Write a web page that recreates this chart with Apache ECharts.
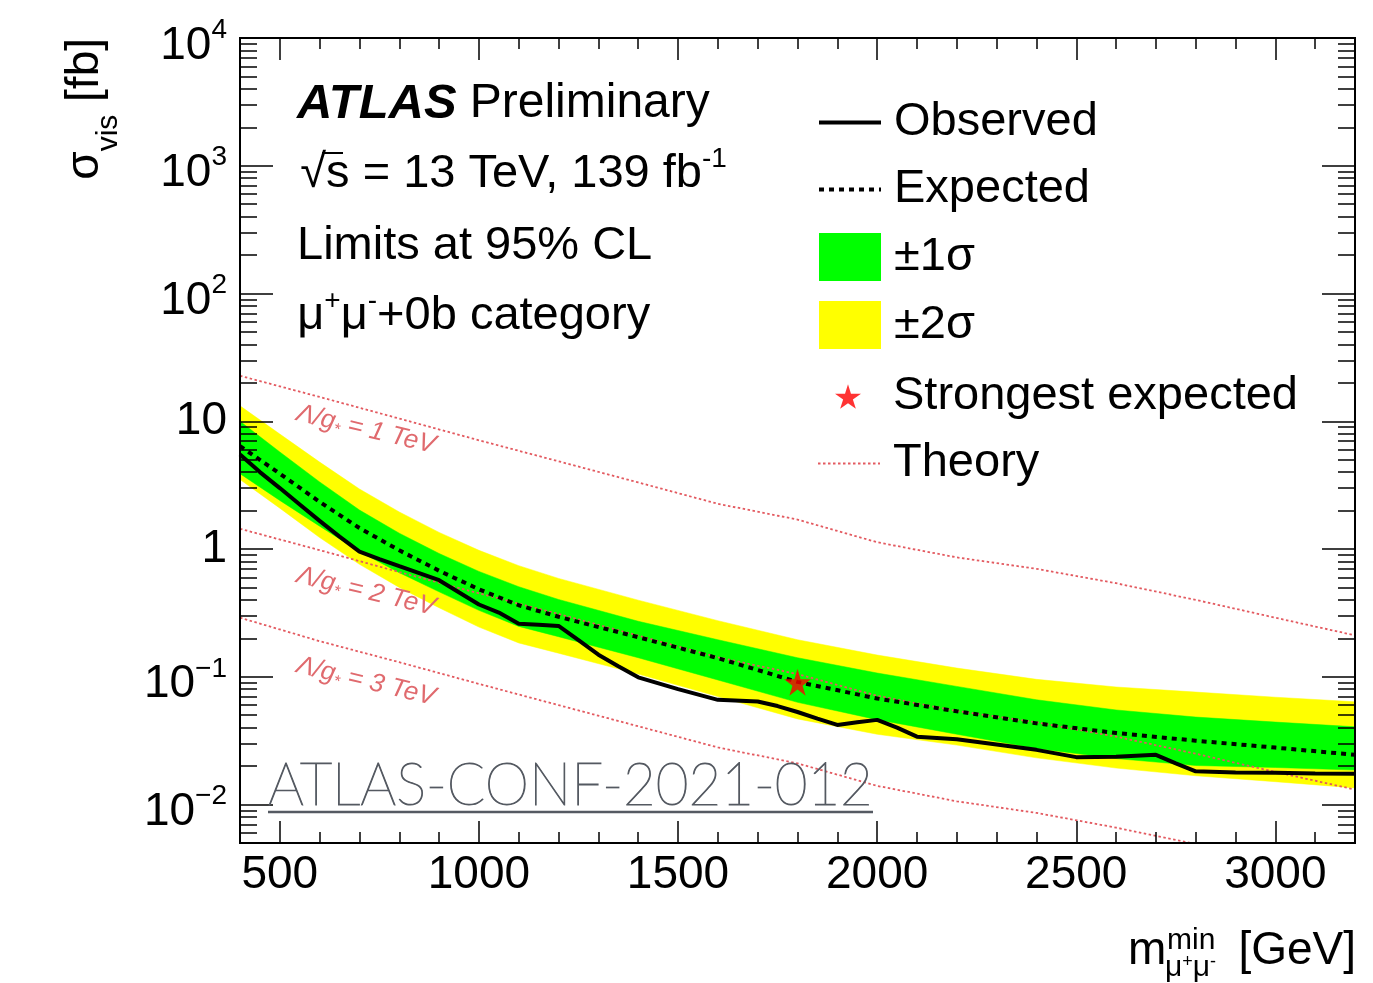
<!DOCTYPE html>
<html><head><meta charset="utf-8">
<script src="https://cdn.jsdelivr.net/npm/echarts@6/dist/echarts.min.js"></script>
<style>html,body{margin:0;padding:0;background:#fff}#c{width:1373px;height:983px}</style>
</head><body><div id="c"></div>
<script>
// ---- data ----
const bandMass = [400,500,600,700,800,900,1000,1100,1200,1400,1600,1800,2000,2200,2400,2600,2800,3000,3200];
const expected = [6.40,3.89,2.34,1.46,0.977,0.676,0.484,0.363,0.295,0.204,0.140,0.0912,0.0676,0.0537,0.0432,0.0363,0.0316,0.0279,0.0245];
const plus1    = [10.0,5.75,3.35,2.02,1.33,0.923,0.668,0.507,0.403,0.272,0.195,0.141,0.107,0.0841,0.0661,0.055,0.0484,0.0442,0.0406];
const minus1   = [3.89,2.40,1.51,0.955,0.653,0.462,0.331,0.248,0.206,0.141,0.0944,0.0631,0.0462,0.0355,0.0275,0.0229,0.0202,0.0195,0.0186];
const plus2    = [13.2,7.94,4.79,2.95,1.95,1.35,0.977,0.741,0.589,0.398,0.275,0.195,0.148,0.117,0.0955,0.0832,0.0759,0.0692,0.0637];
const minus2   = [3.50,2.09,1.23,0.759,0.501,0.347,0.245,0.184,0.153,0.105,0.070,0.0468,0.0355,0.0292,0.0232,0.0193,0.0168,0.0151,0.0135];

const obsMass  = [400,450,500,550,600,650,700,750,800,900,1000,1050,1100,1150,1200,1250,1300,1350,1400,1500,1600,1700,1750,1800,1850,1900,1950,2000,2050,2100,2200,2300,2400,2500,2600,2700,2750,2800,2900,3000,3100,3200];
const observed = [5.5,4.0,3.0,2.23,1.66,1.25,0.955,0.835,0.734,0.57,0.368,0.318,0.26,0.255,0.25,0.194,0.149,0.121,0.099,0.080,0.066,0.064,0.059,0.053,0.047,0.042,0.044,0.046,0.040,0.034,0.0325,0.0295,0.0268,0.0235,0.0237,0.0245,0.021,0.0182,0.0178,0.0177,0.0175,0.0174];

const theoryMass = [400,600,800,1000,1200,1400,1600,1800,2000,2200,2400,2600,2800,3000,3200];
const theory1TeV = [22.7,15.5,10.5,7.1,4.86,3.32,2.26,1.70,1.13,0.86,0.70,0.54,0.40,0.29,0.211];
const theory2TeV = [1.44,0.98,0.66,0.45,0.31,0.21,0.142,0.105,0.071,0.054,0.044,0.034,0.025,0.018,0.0131];
const theory3TeV = [0.29,0.19,0.13,0.088,0.060,0.041,0.028,0.021,0.014,0.0106,0.0086,0.0066,0.0049,0.0036,0.0026];

const strongestMass = [1800];
const strongestValue = [0.0905];

const xMajorTicks = [500,1000,1500,2000,2500,3000];
const xMinorTicks = [400,600,700,800,900,1100,1200,1300,1400,1600,1700,1800,1900,2100,2200,2300,2400,2600,2700,2800,2900,3100,3200];
const yMajorTicks = [0.01,0.1,1,10,100,1000,10000];
const yMinorTicks = [];
for (let k = -3; k <= 3; k++) for (let d = 2; d <= 9; d++) {
  const v = parseFloat((d * Math.pow(10, k)).toPrecision(3));
  if (v >= 0.005 && v <= 10000) yMinorTicks.push(v);
}

// ---- chart ----
const FONT = "'Liberation Sans', Arial, Helvetica, sans-serif";
const chart = echarts.init(document.getElementById('c'), null, {renderer: 'canvas', width: 1373, height: 983});

function xAx(position, len, ticks, withLabels) {
  return {
    type: 'value', min: 400, max: 3200, position: position, z: 10,
    axisLine: {show: true, onZero: false, lineStyle: {color: '#000', width: 2}},
    axisTick: {show: true, inside: true, length: len, customValues: ticks, lineStyle: {color: '#000', width: 1.5}},
    axisLabel: withLabels ? {show: true, customValues: ticks, margin: 9, fontSize: 46, fontFamily: FONT, color: '#000',
      formatter: function (v) { return String(Math.round(v)); }} : {show: false},
    splitLine: {show: false}
  };
}
function yLabel(v) {
  const e = Math.round(Math.log10(v));
  if (e === 0) return '{p|1}';
  if (e === 1) return '{p|10}';
  return '{z| }{b|10}{e|' + (e < 0 ? '\u2212' + (-e) : e) + '}';
}
function yAx(position, len, ticks, withLabels) {
  return {
    type: 'log', logBase: 10, min: 0.005, max: 10000, position: position, z: 10,
    axisLine: {show: true, onZero: false, lineStyle: {color: '#000', width: 2}},
    axisTick: {show: true, inside: true, length: len, customValues: ticks, lineStyle: {color: '#000', width: 1.5}},
    axisLabel: withLabels ? {
      show: true, customValues: ticks, margin: 13, formatter: yLabel, color: '#000',
      rich: {
        p: {fontSize: 46, fontFamily: FONT, color: '#000', lineHeight: 46},
        z: {fontSize: 1, lineHeight: 62, fontFamily: FONT},
        b: {fontSize: 46, fontFamily: FONT, color: '#000', lineHeight: 46, verticalAlign: 'bottom'},
        e: {fontSize: 28, fontFamily: FONT, color: '#000', padding: [9, 0, 0, 0], verticalAlign: 'top'}
      }
    } : {show: false},
    splitLine: {show: false}, minorTick: {show: false}
  };
}

function bandSeries(name, color, lo, hi, z) {
  return {
    type: 'custom', name: name, z: z, xAxisIndex: 0, yAxisIndex: 0,
    itemStyle: {color: color}, animation: false, silent: true,
    data: bandMass.map((m, i) => [m, lo[i], hi[i]]),
    encode: {x: 0, y: [1, 2]},
    renderItem: function (params, api) {
      if (params.dataIndex !== 0) return {type: 'group', children: []};
      const pts = [];
      for (let i = 0; i < bandMass.length; i++) pts.push(api.coord([bandMass[i], hi[i]]));
      for (let i = bandMass.length - 1; i >= 0; i--) pts.push(api.coord([bandMass[i], lo[i]]));
      return {type: 'polygon', shape: {points: pts}, style: {fill: color, stroke: color, lineWidth: 0.5}};
    }
  };
}
function theorySeries(vals) {
  return {
    type: 'line', name: 'Theory', z: 4, symbol: 'none', clip: true, animation: false,
    data: theoryMass.map((m, i) => [m, vals[i]]),
    lineStyle: {color: '#e35a60', width: 1.8, type: [2.5, 2.5]},
    itemStyle: {color: '#e35a60'}
  };
}

const STAR = 'path://M50,0 L61,35 L98,35 L68,57 L79,91 L50,70 L21,91 L32,57 L2,35 L39,35 Z';
const legendText = {fontSize: 47, fontFamily: FONT, color: '#000', padding: [0, 0, 0, 8]};
const lblStyle = {fill: '#e06a6e', fontSize: 26, fontFamily: FONT, fontStyle: 'italic'};
const hideSym = {opacity: 0};

function theoryLabel(x, y, tev) {
  return {
    type: 'text', x: x, y: y, rotation: -13.5 * Math.PI / 180, z: 50,
    style: {
      text: '{a|\u039B/g}{s|*}{a| = ' + tev + ' TeV}', align: 'left', verticalAlign: 'middle',
      rich: {a: Object.assign({lineHeight: 30}, lblStyle), s: Object.assign({}, lblStyle, {fontSize: 16, lineHeight: 30, verticalAlign: 'bottom'})}
    }
  };
}
const sup = {
  z: {fontSize: 1, lineHeight: 62, fontFamily: FONT, fill: '#000'},
  p: {fontSize: 47, fontFamily: FONT, fill: '#000', lineHeight: 47, verticalAlign: 'bottom'},
  e: {fontSize: 28, fontFamily: FONT, fill: '#000', padding: [9, 0, 0, 0], verticalAlign: 'top'}
};

chart.setOption({
  backgroundColor: '#fff',
  animation: false,
  grid: {left: 240, right: 18, top: 38, bottom: 140, containLabel: false},
  xAxis: [
    xAx('bottom', 22, xMajorTicks, true),
    xAx('bottom', 11, xMinorTicks, false),
    xAx('top', 22, xMajorTicks, false),
    xAx('top', 11, xMinorTicks, false)
  ],
  yAxis: [
    yAx('left', 33, yMajorTicks, true),
    yAx('left', 17, yMinorTicks, false),
    yAx('right', 33, yMajorTicks, false),
    yAx('right', 17, yMinorTicks, false)
  ],
  legend: [
    {orient: 'vertical', left: 817, top: 99, padding: 0, itemWidth: 62, itemHeight: 48, itemGap: 20, selectedMode: false,
      textStyle: legendText,
      data: [{name: 'Observed', itemStyle: hideSym, lineStyle: {width: 4, color: '#000'}},
             {name: 'Expected', itemStyle: hideSym, lineStyle: {width: 4, color: '#000', type: [5, 5]}},
             {name: '\u00B11\u03C3', icon: 'rect'}, {name: '\u00B12\u03C3', icon: 'rect'}]},
    {orient: 'vertical', left: 835, top: 373, padding: 0, itemWidth: 26, itemHeight: 26, selectedMode: false,
      textStyle: Object.assign({}, legendText, {padding: [0, 0, 0, 27]}),
      data: [{name: 'Strongest expected', icon: STAR}]},
    {orient: 'vertical', left: 817, top: 440, padding: 0, itemWidth: 62, itemHeight: 48, selectedMode: false,
      textStyle: legendText, data: [{name: 'Theory', itemStyle: hideSym, lineStyle: {width: 2, color: '#e35a60', type: [2.5, 2.5]}}]}
  ],
  series: [
    bandSeries('\u00B12\u03C3', '#ffff00', minus2, plus2, 1),
    bandSeries('\u00B11\u03C3', '#00ff00', minus1, plus1, 2),
    theorySeries(theory1TeV),
    theorySeries(theory2TeV),
    theorySeries(theory3TeV),
    {type: 'line', name: 'Expected', z: 5, symbol: 'none', animation: false,
      data: bandMass.map((m, i) => [m, expected[i]]),
      lineStyle: {color: '#000', width: 4, type: [5, 5]}, itemStyle: {color: '#000'}},
    {type: 'line', name: 'Observed', z: 6, symbol: 'none', animation: false,
      data: obsMass.map((m, i) => [m, observed[i]]),
      lineStyle: {color: '#000', width: 4}, itemStyle: {color: '#000'}},
    {type: 'scatter', name: 'Strongest expected', z: 7, symbol: STAR, symbolSize: 27, animation: false,
      data: strongestMass.map((m, i) => [m, strongestValue[i]]),
      itemStyle: {color: '#ff0000'}}
  ],
  graphic: [
    {type: 'text', x: 297, y: 104, z: 50, style: {
      text: '{a|ATLAS} {p|Preliminary}', fontSize: 47, fontFamily: FONT, fill: '#000', align: 'left', verticalAlign: 'middle',
      rich: {a: {fontSize: 49, fontFamily: FONT, fontWeight: 'bold', fontStyle: 'italic', fill: '#000'}, p: {fontSize: 48, fontFamily: FONT, fill: '#000'}}}},
    {type: 'text', x: 300, y: 167, z: 50, style: {
      text: '{z| }{p|\u221As = 13 TeV, 139 fb}{e|-1}', fontSize: 47, fontFamily: FONT, fill: '#000', align: 'left', verticalAlign: 'middle', rich: sup}},
    {type: 'line', z: 50, shape: {x1: 322, y1: 153, x2: 343, y2: 153}, style: {stroke: '#000', lineWidth: 2}},
    {type: 'text', x: 297, y: 246, z: 50, style: {
      text: 'Limits at 95% CL', fontSize: 47, fontFamily: FONT, fill: '#000', align: 'left', verticalAlign: 'middle'}},
    {type: 'text', x: 297, y: 309, z: 50, style: {
      text: '{z| }{p|\u03BC}{e|+}{p|\u03BC}{e|-}{p|+0b category}', fontSize: 47, fontFamily: FONT, fill: '#000', align: 'left', verticalAlign: 'middle', rich: sup}},
    theoryLabel(297, 413, 1),
    theoryLabel(297, 575, 2),
    theoryLabel(297, 665, 3),
    // y-axis title
    {type: 'text', x: 85, y: 38, rotation: Math.PI / 2, z: 50, style: {
      text: '{a|\u03C3}{s|vis}{a| [fb]}', align: 'right', verticalAlign: 'middle',
      rich: {a: {fontSize: 46, fontFamily: FONT, fill: '#000', lineHeight: 46, verticalAlign: 'top'},
             s: {fontSize: 30, fontFamily: FONT, fill: '#000', lineHeight: 30, padding: [32, 0, 0, 0], verticalAlign: 'top'}}}},
    // x-axis title
    {type: 'text', x: 1356, y: 951, z: 50, style: {text: '[GeV]', fontSize: 46, fontFamily: FONT, fill: '#000', align: 'right', verticalAlign: 'middle'}},
    {type: 'text', x: 1128, y: 951, z: 50, style: {text: 'm', fontSize: 46, fontFamily: FONT, fill: '#000', align: 'left', verticalAlign: 'middle'}},
    {type: 'text', x: 1167, y: 941, z: 50, style: {text: 'min', fontSize: 30, fontFamily: FONT, fill: '#000', align: 'left', verticalAlign: 'middle'}},
    {type: 'text', x: 1165, y: 968, z: 50, style: {
      text: '{a|\u03BC}{b|+}{a|\u03BC}{b|-}', align: 'left', verticalAlign: 'middle',
      rich: {a: {fontSize: 30, fontFamily: FONT, fill: '#000', lineHeight: 30, padding: [6, 0, 0, 0], verticalAlign: 'bottom'},
             b: {fontSize: 18, fontFamily: FONT, fill: '#000', lineHeight: 18, verticalAlign: 'top'}}}},
    // document reference
    {type: 'text', x: 268, y: 786, z: 60, scaleX: 0.94, style: {
      text: 'ATLAS-CONF-2021-012', fontSize: 60, fontFamily: "'Lato', 'Roboto', 'Open Sans', sans-serif", fontWeight: 200,
      fill: '#555a62', stroke: '#555a62', lineWidth: 1.1, align: 'left', verticalAlign: 'middle'}},
    {type: 'line', z: 60, shape: {x1: 268, y1: 812, x2: 873, y2: 812}, style: {stroke: '#555a62', lineWidth: 2.5}}
  ]
});
</script>
</body></html>
